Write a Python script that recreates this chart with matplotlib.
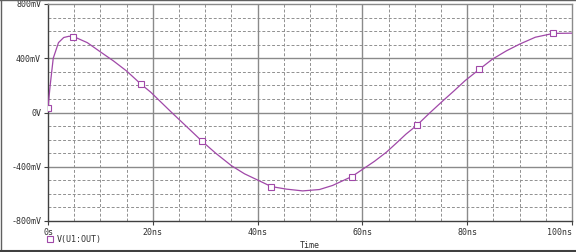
import matplotlib
matplotlib.use("Agg")
import matplotlib.pyplot as plt
from matplotlib.lines import Line2D

# Trace V(U1:OUT): time (ns) and voltage (mV)
t_ns = [0, 0.4, 1.0, 2.0, 3.0, 4.0, 5.0, 7.5, 10, 12.5, 15, 17.8, 19.6, 23.6,
        26.7, 29.4, 32, 35, 37.5, 39.9, 42.6, 45.5, 48.6, 51.8, 54.3, 58, 60,
        62.3, 64.6, 66.5, 68.3, 70.4, 72.8, 75.3, 77.5, 79.6, 82.3, 84.8,
        87.5, 90, 93, 96.4, 100]
v_mv = [35, 195, 400, 515, 553, 562, 558, 515, 447, 380, 306, 207, 150, 0,
        -113, -212, -300, -392, -452, -496, -546, -565, -578, -568, -538, -472,
        -420, -360, -292, -225, -160, -94, -5, 84, 160, 235, 318, 393,
        455, 504, 555, 583, 585]

# Marker positions on the trace
mk_t = [0, 4.7, 17.8, 29.4, 42.6, 58, 70.4, 82.3, 96.4]
mk_v = [35, 557, 207, -212, -546, -472, -94, 318, 583]

xticks = [0, 20, 40, 60, 80, 100]
xtick_labels = ["0s", "20ns", "40ns", "60ns", "80ns", "100ns"]
yticks = [-800, -400, 0, 400, 800]
ytick_labels = ["-800mV", "-400mV", "0V", "400mV", "800mV"]
legend_label = "V(U1:OUT)"
xlabel = "Time"

W, H = 576, 253
fig = plt.figure(figsize=(W / 100, H / 100), dpi=100)
fig.patch.set_facecolor("white")
ax = fig.add_axes([48 / W, 1 - 222 / H, (572 - 48) / W, (222 - 5) / H])

col = "#a048a8"
ax.plot(t_ns, v_mv, color=col, lw=0.9, zorder=3)
ax.plot(mk_t, mk_v, ls="none", marker="s", ms=4, mfc="white", mec=col,
        mew=0.8, zorder=4)

ax.set_xlim(0, 100)
ax.set_ylim(-800, 800)

# minor dashed grid
for x in range(5, 100, 5):
    if x % 20:
        ax.axvline(x, color="#909090", lw=0.7, ls=(0, (3, 2)), zorder=1)
for y in range(-700, 800, 100):
    if y % 400:
        ax.axhline(y, color="#909090", lw=0.7, ls=(0, (3, 2)), zorder=1)
# major solid grid
for x in xticks[1:-1]:
    ax.axvline(x, color="#8a8a8a", lw=1.0, zorder=1)
for y in yticks[1:-1]:
    ax.axhline(y, color="#8a8a8a", lw=1.0, zorder=1)

for s in ["top", "right"]:
    ax.spines[s].set_color("#8a8a8a")
    ax.spines[s].set_linewidth(1.0)
for s in ["left", "bottom"]:
    ax.spines[s].set_color("#404040")
    ax.spines[s].set_linewidth(1.0)

ax.set_xticks(xticks)
ax.set_xticklabels([])
ax.set_yticks(yticks)
ax.set_yticklabels([])
ax.tick_params(axis="both", direction="out", length=3, width=0.8,
               color="#404040")

fnt = dict(family="DejaVu Sans Mono", fontsize=6, color="#303030")
for y, lab in zip(yticks, ytick_labels):
    ax.annotate(lab, xy=(0, y), xycoords=("axes fraction", "data"),
                xytext=(-5, 0), textcoords="offset points",
                ha="right", va="center", **fnt)
for x, lab in zip(xticks, xtick_labels):
    ax.annotate(lab, xy=(x, 0), xycoords=("data", "axes fraction"),
                xytext=(0, -4), textcoords="offset points",
                ha="right" if x == 100 else "center", va="top", **fnt)

fig.text(310 / W, 1 - 246 / H, xlabel, ha="center", va="center", **fnt)
fig.add_artist(Line2D([50 / W], [1 - 240 / H], marker="s", ms=4, mfc="white",
                      mec=col, mew=0.8, ls="none", transform=fig.transFigure))
fig.text(57 / W, 1 - 240 / H, legend_label, ha="left", va="center", **fnt)

# outer frame of the window
fig.add_artist(Line2D([0, 1], [1 - 0.5 / H, 1 - 0.5 / H], color="#606060",
                      lw=1.0, transform=fig.transFigure))
fig.add_artist(Line2D([0.5 / W, 0.5 / W], [0, 1], color="#606060",
                      lw=1.0, transform=fig.transFigure))
fig.add_artist(Line2D([0, 1], [1 - 251.5 / H, 1 - 251.5 / H], color="#404040",
                      lw=1.5, transform=fig.transFigure))

fig.savefig("out.png", dpi=100, facecolor="white")
